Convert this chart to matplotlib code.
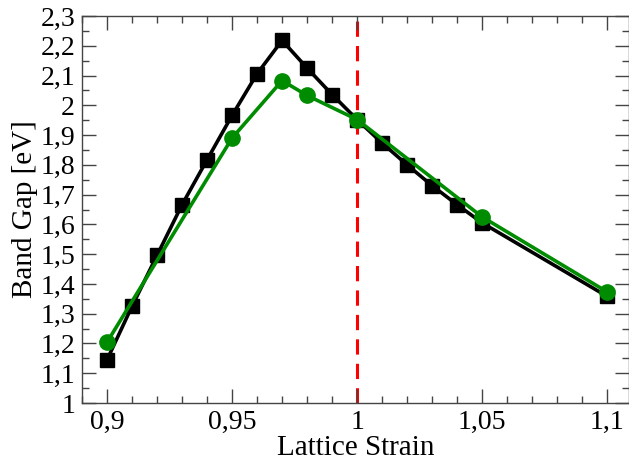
import numpy as np
import matplotlib
matplotlib.use('Agg')
import matplotlib.pyplot as plt
from matplotlib.ticker import MultipleLocator, FuncFormatter

# band gap vs lattice strain
strain_sq = [0.90, 0.91, 0.92, 0.93, 0.94, 0.95, 0.96, 0.97, 0.98, 0.99,
             1.00, 1.01, 1.02, 1.03, 1.04, 1.05, 1.10]
gap_sq = [1.145, 1.325, 1.496, 1.666, 1.817, 1.966, 2.106, 2.218, 2.125, 2.036,
          1.952, 1.873, 1.800, 1.730, 1.666, 1.605, 1.358]
strain_ci = [0.90, 0.95, 0.97, 0.98, 1.00, 1.05, 1.10]
gap_ci = [1.204, 1.890, 2.083, 2.033, 1.952, 1.625, 1.373]
ref_strain = 1.0

plt.rcParams['font.family'] = ['Liberation Serif', 'DejaVu Serif']

fig = plt.figure(figsize=(6.29, 4.61), dpi=100)
ax = fig.add_axes([82/629, 1 - 403/461, (629 - 82)/629, (403 - 16)/461])

ax.axvline(ref_strain, color='#ff0000', lw=2.2, ls=(0, (5, 3)), zorder=1)
ax.plot(strain_sq, gap_sq, '-s', color='black', lw=2.6, ms=10, zorder=2)
ax.plot(strain_ci, gap_ci, '-o', color='#008c00', lw=2.6, ms=11, zorder=3)

ax.set_xlim(0.89, 1.1087)
ax.set_ylim(1.0, 2.3)
ax.xaxis.set_major_locator(MultipleLocator(0.05))
ax.xaxis.set_minor_locator(MultipleLocator(0.01))
ax.yaxis.set_major_locator(MultipleLocator(0.1))
ax.yaxis.set_minor_locator(MultipleLocator(0.05))

comma = FuncFormatter(lambda v, p: ('%g' % round(v, 4)).replace('.', ','))
ax.xaxis.set_major_formatter(comma)
ax.yaxis.set_major_formatter(comma)

ax.tick_params(which='both', direction='in', top=True, right=True, color='#444444')
ax.tick_params(which='major', length=10, width=1, labelsize=20)
ax.tick_params(axis='x', which='major', pad=5)
ax.tick_params(axis='y', which='major', pad=5)
ax.tick_params(which='minor', length=5, width=1)
for s in ax.spines.values():
    s.set_color('#444444')
    s.set_linewidth(1)

ax.set_xlabel('Lattice Strain', fontsize=21, labelpad=0)
ax.set_ylabel('Band Gap [eV]', fontsize=21, labelpad=2)

fig.savefig('out.png', dpi=100)
